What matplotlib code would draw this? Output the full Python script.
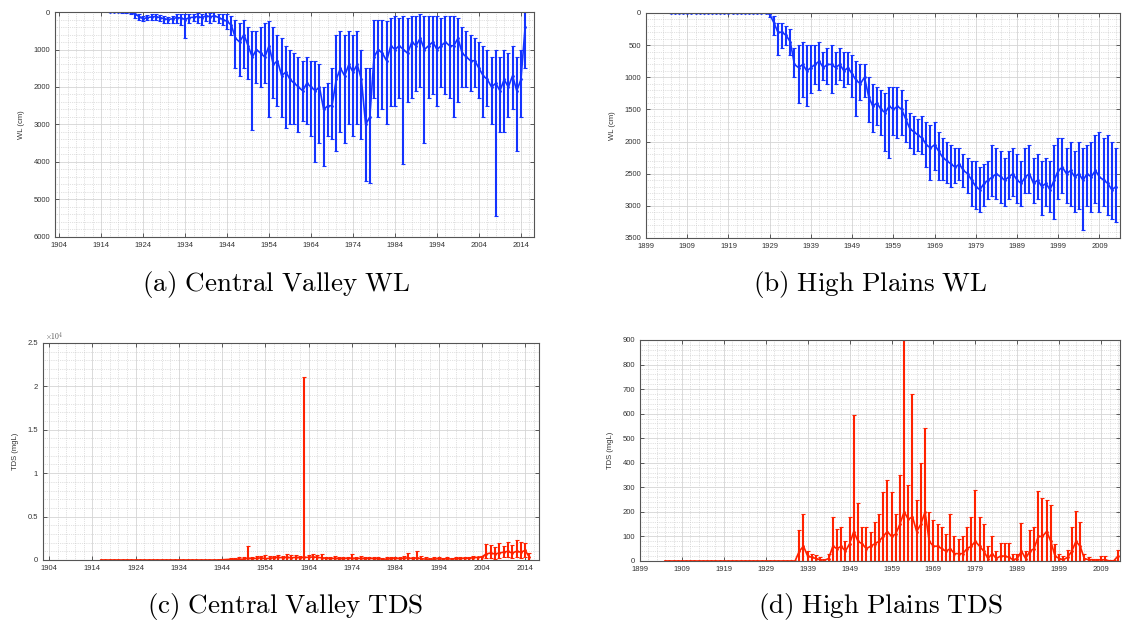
import matplotlib
matplotlib.use('Agg')
import matplotlib.pyplot as plt
from matplotlib.ticker import AutoMinorLocator, FuncFormatter
import numpy as np

plt.rcParams['font.family'] = ['Liberation Sans', 'DejaVu Sans']
plt.rcParams['mathtext.fontset'] = 'cm'

# ---- (a) Central Valley WL, yearly mean / min / max (cm below surface)
cv_years = np.arange(1916, 2016)
cv_wl_mean = [0, 0, 0, 5, 10, 20, 50, 120, 180, 150,
              130, 120, 150, 180, 200, 180, 150, 160, 200, 150,
              140, 120, 150, 100, 130, 100, 150, 200, 250, 350,
              700, 800, 600, 900, 1200, 1000, 1100, 1200, 900, 1400,
              1300, 1700, 1600, 1800, 1900, 2000, 2100, 1900, 2000, 2100,
              2000, 2600, 2500, 2500, 1800, 1500, 1700, 1400, 1600, 1400,
              1800, 3000, 2800, 1200, 1000, 1100, 1300, 900, 1000, 900,
              1000, 1100, 800, 900, 700, 1000, 900, 800, 1000, 900,
              800, 900, 900, 700, 1100, 1200, 1300, 1300, 1500, 1700,
              1800, 2000, 1900, 2100, 1800, 2000, 1700, 2100, 1800, 400]
cv_wl_min = [0, 0, 0, 0, 0, 0, 0, 40, 100, 80,
             60, 60, 80, 100, 120, 100, 60, 60, 50, 50,
             40, 30, 50, 10, 20, 0, 40, 50, 60, 100,
             200, 300, 200, 400, 500, 500, 400, 300, 250, 400,
             600, 700, 900, 1000, 1100, 1200, 1300, 1200, 1300, 1300,
             1400, 2000, 1900, 1500, 600, 500, 600, 500, 600, 500,
             1000, 1500, 1500, 200, 200, 200, 250, 150, 100, 150,
             100, 150, 100, 100, 50, 100, 100, 100, 100, 150,
             100, 100, 100, 150, 400, 500, 600, 700, 800, 900,
             1000, 1200, 1000, 1200, 1000, 1100, 900, 1200, 1000, 0]
cv_wl_max = [0, 0, 10, 20, 30, 60, 150, 200, 250, 200,
             220, 200, 250, 280, 300, 300, 280, 350, 700, 300,
             250, 300, 350, 250, 280, 250, 300, 350, 450, 600,
             1500, 1700, 1500, 1800, 3150, 1900, 2000, 1900, 2800, 2300,
             2500, 2800, 3100, 3000, 3000, 3200, 2900, 3000, 3300, 4000,
             3500, 4100, 3300, 3400, 3700, 3200, 3500, 3000, 3300, 3000,
             3400, 4500, 4550, 2300, 2800, 2600, 3000, 2500, 2500, 2300,
             4050, 2400, 2300, 2100, 2000, 3500, 2300, 2200, 2500, 2000,
             2200, 2300, 2800, 2400, 2000, 2000, 2100, 2000, 2300, 2800,
             2500, 3000, 5450, 3200, 3200, 2800, 2600, 3700, 2800, 1500]

# ---- (b) High Plains WL
hp_years = np.arange(1905, 2014)
hp_wl_mean = [0, 0, 0, 0, 0, 0, 0, 0, 0, 0, 0, 0, 0, 0, 0, 0, 0, 0, 0, 0, 0, 0, 0, 0,
              20, 150, 300, 300, 350, 450, 800, 850, 800, 900,
              850, 800, 750, 850, 800, 800, 850, 800, 900, 850,
              950, 1050, 1100, 1000, 1300, 1450, 1400, 1500, 1550, 1450,
              1500, 1450, 1500, 1650, 1800, 1850, 1900, 1950, 2050, 2100,
              2050, 2150, 2250, 2300, 2350, 2400, 2350, 2450, 2500, 2600,
              2700, 2750, 2650, 2600, 2550, 2500, 2550, 2600, 2550, 2500,
              2600, 2650, 2550, 2500, 2650, 2600, 2700, 2650, 2750, 2600,
              2450, 2400, 2500, 2450, 2550, 2500, 2600, 2500, 2550, 2450,
              2550, 2600, 2650, 2750, 2700]
hp_wl_min = [0, 0, 0, 0, 0, 0, 0, 0, 0, 0, 0, 0, 0, 0, 0, 0, 0, 0, 0, 0, 0, 0, 0, 0,
             0, 50, 150, 150, 200, 250, 550, 500, 450, 500,
             500, 500, 450, 600, 550, 500, 600, 550, 600, 600,
             650, 750, 800, 800, 1000, 1100, 1150, 1200, 1250, 1150,
             1150, 1150, 1200, 1350, 1550, 1600, 1650, 1600, 1700, 1750,
             1700, 1850, 1950, 2000, 2050, 2100, 2100, 2200, 2250, 2300,
             2300, 2400, 2350, 2300, 2050, 2100, 2150, 2250, 2150, 2100,
             2200, 2300, 2100, 2050, 2250, 2200, 2300, 2250, 2300, 2050,
             1950, 1950, 2100, 2000, 2150, 2000, 2100, 2050, 2000, 1900,
             1850, 1950, 1900, 2000, 2100]
hp_wl_max = [0, 0, 0, 0, 0, 0, 0, 0, 0, 0, 0, 0, 0, 0, 0, 0, 0, 0, 0, 0, 0, 0, 0, 0,
             60, 350, 650, 550, 500, 650, 1000, 1400, 1300, 1450,
             1250, 1100, 1200, 1050, 1100, 1250, 1100, 1050, 1150, 1100,
             1300, 1600, 1350, 1300, 1700, 1850, 1750, 1900, 2150, 2250,
             1900, 1950, 1900, 2000, 2100, 2200, 2150, 2200, 2400, 2600,
             2450, 2600, 2600, 2650, 2700, 2650, 2600, 2700, 2800, 3000,
             3050, 3100, 3000, 2900, 2850, 2900, 2950, 3000, 2900, 2850,
             2950, 3000, 2800, 2800, 2950, 2900, 3150, 3000, 3100, 3200,
             2900, 2800, 2950, 3000, 3100, 3050, 3370, 3000, 3100, 2950,
             3100, 3000, 3150, 3200, 3250]

# ---- (c) Central Valley TDS (mg/L)
cv_tds_mean = [0, 0, 0, 0, 0, 0, 0, 0, 0, 0, 0, 0, 0, 0,
               0, 0, 0, 0, 0, 0, 0, 0, 0, 0, 0, 0, 0, 0,
               20, 50, 80, 100, 80, 100, 200, 150, 200, 250,
               150, 200, 250, 300, 250, 300, 250, 300, 250, 300,
               300, 350, 300, 250, 200, 150, 200, 150, 150, 200,
               200, 150, 200, 150, 200, 150, 150, 100, 100, 150,
               200, 150, 200, 250, 150, 250, 150, 100, 100, 100,
               150, 100, 150, 100, 150, 150, 200, 200, 250, 300,
               350, 700, 800, 700, 800, 900, 1000, 800, 1000, 900,
               1100, 300]
cv_tds_min = [0, 0, 0, 0, 0, 0, 0, 0, 0, 0, 0, 0, 0, 0,
              0, 0, 0, 0, 0, 0, 0, 0, 0, 0, 0, 0, 0, 0,
              0, 0, 0, 0, 0, 0, 0, 0, 0, 0,
              0, 0, 0, 0, 0, 50, 0, 50, 0, 0,
              50, 50, 0, 0, 0, 0, 0, 0, 0, 0,
              0, 0, 0, 0, 0, 0, 0, 0, 0, 0,
              0, 0, 0, 0, 0, 0, 0, 0, 0, 0,
              0, 0, 0, 0, 0, 0, 0, 0, 0, 0,
              0, 200, 200, 100, 200, 300, 300, 200, 300, 200,
              300, 0]
cv_tds_max = [0, 0, 0, 0, 0, 0, 0, 0, 0, 0, 0, 0, 0, 0,
              0, 0, 0, 0, 0, 0, 0, 0, 0, 0, 0, 0, 0, 0,
              80, 150, 200, 250, 300, 350, 1650, 400, 450, 500,
              600, 500, 450, 600, 500, 700, 550, 600, 500, 21100,
              600, 700, 600, 650, 400, 350, 450, 350, 300, 400,
              700, 350, 450, 400, 350, 300, 350, 250, 300, 350,
              400, 300, 500, 800, 400, 1000, 450, 300, 250, 300,
              350, 250, 300, 250, 350, 300, 400, 350, 450, 400,
              500, 1800, 1700, 1500, 1900, 1600, 2100, 1700, 2300, 2100,
              1900, 800]

# ---- (d) High Plains TDS (mg/L)
hp_tds_mean = [0, 0, 0, 0, 0, 0, 0, 0, 0, 0, 0, 0, 0, 0, 0, 0,
               0, 0, 0, 0, 0, 0, 0, 0, 0, 0, 0, 0, 0, 0, 0, 0,
               40, 60, 20, 15, 10, 5, 3, 10, 60, 50,
               60, 40, 70, 120, 80, 70, 50, 60, 70, 80,
               100, 120, 100, 110, 150, 200, 170, 180, 120, 150,
               200, 80, 60, 60, 50, 40, 50, 30, 30, 30,
               50, 60, 80, 60, 40, 10, 30, 10, 20, 20,
               15, 5, 10, 40, 10, 40, 50, 100, 100, 120,
               80, 20, 10, 5, 15, 40, 80, 60, 10, 5,
               5, 3, 5, 5, 0, 0, 20]
hp_tds_max = [0, 0, 0, 0, 0, 0, 0, 0, 0, 0, 0, 0, 0, 0, 0, 0,
              0, 0, 0, 0, 0, 0, 0, 0, 0, 0, 0, 0, 0, 0, 0, 0,
              125, 190, 40, 30, 25, 15, 10, 30, 180, 130,
              140, 80, 180, 595, 235, 140, 140, 120, 160, 190,
              280, 330, 280, 190, 350, 900, 310, 680, 250, 400,
              540, 200, 165, 150, 140, 110, 190, 100, 90, 100,
              140, 180, 290, 180, 150, 60, 100, 40, 75, 75,
              75, 30, 30, 155, 40, 126, 140, 287, 255, 250,
              230, 70, 30, 20, 45, 140, 205, 157, 30, 15,
              10, 10, 20, 20, 5, 5, 45]

BLUE = '#1433ff'
RED = '#ff2200'
FS = 5.5


def style_axes(ax, xticks, xlim, yticks, ylim, invert=False):
    ax.set_xlim(xlim)
    ax.set_xticks(xticks)
    ax.set_yticks(yticks)
    ax.set_ylim(ylim)
    if invert:
        ax.invert_yaxis()
    ax.xaxis.set_minor_locator(AutoMinorLocator(5))
    ax.yaxis.set_minor_locator(AutoMinorLocator(5))
    ax.grid(True, which='major', color='#d4d4d4', lw=0.6, ls='-')
    ax.grid(True, which='minor', color='#c4c4c4', lw=0.5, ls=':')
    ax.set_axisbelow(True)
    ax.tick_params(which='both', direction='in', top=True, right=True,
                   labelsize=FS, labelcolor='#333333', color='#444444')
    ax.tick_params(which='major', length=3, width=0.6)
    ax.tick_params(which='minor', length=0)
    for s in ax.spines.values():
        s.set_color('#555555')
        s.set_linewidth(0.8)


def draw(ax, x, mean, lo, hi, color):
    mean = np.array(mean, float)
    err = [mean - np.array(lo, float), np.array(hi, float) - mean]
    ax.errorbar(x, mean, yerr=err, color=color, lw=1.2, elinewidth=1.5,
                capsize=1.4, capthick=0.8, marker='.', ms=2)


fig = plt.figure(figsize=(11.22, 6.22), dpi=100)

ax_a = fig.add_axes([0.0490, 0.6190, 0.4269, 0.3617])
ax_b = fig.add_axes([0.5758, 0.6174, 0.4225, 0.3617])
ax_c = fig.add_axes([0.0383, 0.0997, 0.4421, 0.3489])
ax_d = fig.add_axes([0.5704, 0.0981, 0.4278, 0.3553])

draw(ax_a, cv_years, cv_wl_mean, cv_wl_min, cv_wl_max, BLUE)
style_axes(ax_a, np.arange(1904, 2015, 10), (1903, 2017.1),
           np.arange(0, 6001, 1000), (0, 6000), invert=True)
ax_a.set_ylabel('WL (cm)', fontsize=FS, color='#333333', labelpad=6)

draw(ax_b, hp_years, hp_wl_mean, hp_wl_min, hp_wl_max, BLUE)
style_axes(ax_b, np.arange(1899, 2014, 10), (1899, 2014),
           np.arange(0, 3501, 500), (0, 3500), invert=True)
ax_b.set_ylabel('WL (cm)', fontsize=FS, color='#333333', labelpad=6)

draw(ax_c, cv_years, cv_tds_mean, cv_tds_min, cv_tds_max, RED)
style_axes(ax_c, np.arange(1904, 2015, 10), (1902.6, 2017.2),
           np.arange(0, 25001, 5000), (0, 25000))
ax_c.yaxis.set_major_formatter(FuncFormatter(lambda v, p: f'{v / 1e4:g}'))
ax_c.text(0.005, 1.0, r'$\times10^4$', transform=ax_c.transAxes,
          fontsize=FS, color='#555555', va='bottom', ha='left')
ax_c.set_ylabel('TDS (mgL)', fontsize=FS, color='#333333', labelpad=6)

draw(ax_d, hp_years, hp_tds_mean, [0] * len(hp_tds_mean), hp_tds_max, RED)
style_axes(ax_d, np.arange(1899, 2014, 10), (1899, 2013.5),
           np.arange(0, 901, 100), (0, 900))
ax_d.set_ylabel('TDS (mgL)', fontsize=FS, color='#333333', labelpad=6)

cap = dict(fontsize=19.5, ha='center', va='center')
fig.text(276 / 1122, 1 - 285 / 622, r'$\mathrm{(a)\ Central\ Valley\ WL}$', **cap)
fig.text(870 / 1122, 1 - 285 / 622, r'$\mathrm{(b)\ High\ Plains\ WL}$', **cap)
fig.text(285 / 1122, 1 - 606 / 622, r'$\mathrm{(c)\ Central\ Valley\ TDS}$', **cap)
fig.text(880 / 1122, 1 - 606 / 622, r'$\mathrm{(d)\ High\ Plains\ TDS}$', **cap)

fig.savefig('out.png', dpi=100)
